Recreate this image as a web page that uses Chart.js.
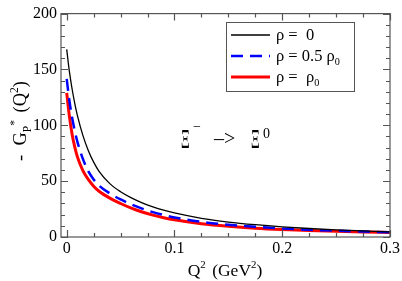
<!DOCTYPE html>
<html>
<head>
<meta charset="utf-8">
<script src="https://cdn.jsdelivr.net/npm/chart.js@4/dist/chart.umd.min.js"></script>
<style>
  html, body { margin: 0; padding: 0; background: #fff; }
  #wrap { width: 402px; height: 281px; position: relative; }
</style>
</head>
<body>
<div id="wrap"><canvas id="chart"></canvas></div>
<script>
// Q^2 grid (GeV^2)
const q2 = [0, 0.0025, 0.005, 0.0075, 0.01, 0.015, 0.02, 0.025, 0.03, 0.04, 0.05, 0.06,
            0.07, 0.08, 0.09, 0.1, 0.125, 0.15, 0.175, 0.2, 0.225, 0.25, 0.275, 0.3];
// -G_P^*(Q^2) for each density
const rho0 = [168, 148, 132.5, 119.5, 108.5, 91, 77.5, 67, 58.8, 47.8, 40.5, 35,
              30.6, 27, 24, 21.5, 16.7, 13.4, 11, 9.1, 7.6, 6.4, 5.4, 4.6];
const rhoHalf = [141.5, 122, 107, 95, 85, 70, 59, 51.5, 46, 39, 33.6, 29.1,
                 25.4, 22.3, 19.7, 17.5, 13.6, 11, 9.1, 7.6, 6.5, 5.6, 4.9, 4.3];
const rhoFull = [129, 108, 92, 80.5, 71.5, 59.5, 51.5, 45.5, 41, 34.8, 30, 25.8,
                 22.4, 19.6, 17.3, 15.4, 11.9, 9.6, 7.9, 6.7, 5.8, 5.1, 4.55, 4.1];

const xTicks = [0, 0.1, 0.2, 0.3];
const yTicks = [0, 50, 100, 150, 200];
const legendLabels = [['ρ =  0', ''], ['ρ = 0.5 ρ', '0'], ['ρ =  ρ', '0']];

const SERIF = '"Liberation Serif", "DejaVu Serif", serif';
const FRAME = '#555';

const toPoints = (ys) => q2.map((x, i) => ({ x: x, y: ys[i] }));

// draws text with raised / lowered small parts
function richText(ctx, parts, x, y, size) {
  let cx = x;
  parts.forEach(p => {
    const s = p.s ? size * 0.62 : size;
    ctx.font = `${s}px ${SERIF}`;
    const dy = p.s === 'sup' ? -size * 0.45 : (p.s === 'sub' ? size * 0.25 : 0);
    ctx.fillText(p.t, cx, y + dy);
    cx += ctx.measureText(p.t).width + (p.gap || 0);
  });
  return cx - x;
}
function richWidth(ctx, parts, size) {
  let w = 0;
  parts.forEach(p => {
    ctx.font = `${p.s ? size * 0.62 : size}px ${SERIF}`;
    w += ctx.measureText(p.t).width + (p.gap || 0);
  });
  return w;
}
// single glyph squeezed horizontally
function squeezed(ctx, t, x, y, size, sx) {
  ctx.save();
  ctx.font = `${size}px ${SERIF}`;
  ctx.translate(x, y);
  ctx.scale(sx, 1);
  ctx.fillText(t, 0, 0);
  ctx.restore();
}

const decorations = {
  id: 'decorations',
  afterDatasetsDraw(chart) {
    const ctx = chart.ctx;
    const a = chart.chartArea;
    const xs = chart.scales.x, ys = chart.scales.y;
    ctx.save();
    // frame
    ctx.strokeStyle = FRAME;
    ctx.lineWidth = 1.2;
    ctx.strokeRect(a.left, a.top, a.right - a.left, a.bottom - a.top);
    // inward ticks, all four sides
    ctx.beginPath();
    for (let v = 0; v <= 0.3001; v += 0.025) {
      const px = Math.round(xs.getPixelForValue(v)) + 0.5;
      const major = Math.abs(v / 0.1 - Math.round(v / 0.1)) < 1e-6;
      const len = major ? 7 : 4;
      ctx.moveTo(px, a.bottom); ctx.lineTo(px, a.bottom - len);
      ctx.moveTo(px, a.top); ctx.lineTo(px, a.top + len);
    }
    for (let v = 0; v <= 200; v += 10) {
      const py = Math.round(ys.getPixelForValue(v)) + 0.5;
      const len = v % 50 === 0 ? 7 : 4;
      ctx.moveTo(a.left, py); ctx.lineTo(a.left + len, py);
      ctx.moveTo(a.right, py); ctx.lineTo(a.right - len, py);
    }
    ctx.stroke();

    ctx.fillStyle = '#000';
    ctx.textBaseline = 'alphabetic';
    // x title
    const xt = [{ t: 'Q' }, { t: '2', s: 'sup', gap: 2 }, { t: ' (GeV' }, { t: '2', s: 'sup' }, { t: ')' }];
    const xw = richWidth(ctx, xt, 17.5);
    richText(ctx, xt, 225 - xw / 2, 276, 17.5);
    // y title
    ctx.save();
    ctx.translate(26, 121);
    ctx.rotate(-Math.PI / 2);
    const yt = [{ t: '-  G' }, { t: 'P', s: 'sub' }, { t: '*', s: 'sup', gap: 3 }, { t: ' (Q' }, { t: '2', s: 'sup' }, { t: ')' }];
    const yw = richWidth(ctx, yt, 18.5);
    richText(ctx, yt, -yw / 2, 0, 18.5);
    ctx.restore();

    // legend
    const lx = 226, ly = 22, lw = 128, lh = 69;
    ctx.fillStyle = '#fff';
    ctx.fillRect(lx, ly, lw, lh);
    ctx.strokeStyle = FRAME;
    ctx.lineWidth = 1;
    ctx.strokeRect(lx + 0.5, ly + 0.5, lw, lh);
    chart.data.datasets.forEach((ds, i) => {
      const yy = 35 + i * 21;
      ctx.beginPath();
      ctx.strokeStyle = ds.borderColor;
      ctx.lineWidth = ds.borderWidth;
      ctx.setLineDash(ds.borderDash || []);
      ctx.moveTo(231, yy); ctx.lineTo(270, yy);
      ctx.stroke();
      ctx.setLineDash([]);
      ctx.fillStyle = '#000';
      const lab = legendLabels[i];
      const parts = [{ t: lab[0] }];
      if (lab[1]) parts.push({ t: lab[1], s: 'sub' });
      richText(ctx, parts, 276, yy + 5, 16.5);
    });

    // reaction label  Ξ⁻ -> Ξ⁰
    ctx.fillStyle = '#000';
    squeezed(ctx, 'Ξ', 181, 148, 27, 0.5);
    ctx.font = `14px ${SERIF}`;
    ctx.fillText('−', 193, 131);
    ctx.font = `20px ${SERIF}`;
    ctx.fillText('–>', 214, 145);
    squeezed(ctx, 'Ξ', 251, 148, 27, 0.5);
    ctx.font = `14px ${SERIF}`;
    ctx.fillText('0', 263, 138);
    ctx.restore();
  }
};

const tickFont = { family: SERIF, size: 16 };

new Chart(document.getElementById('chart'), {
  type: 'line',
  data: {
    datasets: [
      { label: 'rho = 0', data: toPoints(rho0), borderColor: '#000000', borderWidth: 1.3 },
      { label: 'rho = 0.5 rho0', data: toPoints(rhoHalf), borderColor: '#0000ff', borderWidth: 2.5, borderDash: [12, 7] },
      { label: 'rho = rho0', data: toPoints(rhoFull), borderColor: '#ff0000', borderWidth: 3 }
    ].map(d => Object.assign(d, { pointRadius: 0, fill: false, cubicInterpolationMode: 'monotone' }))
  },
  options: {
    responsive: true,
    maintainAspectRatio: false,
    animation: false,
    layout: { padding: { left: 0, right: 11, top: 7, bottom: 0 } },
    plugins: { legend: { display: false }, tooltip: { enabled: false } },
    scales: {
      x: {
        type: 'linear',
        min: -0.0053,
        max: 0.3,
        grid: { display: false, drawTicks: false },
        border: { display: false },
        afterBuildTicks: (s) => { s.ticks = xTicks.map(v => ({ value: v })); },
        afterFit: (s) => { s.height = 44; },
        ticks: { font: tickFont, color: '#000', padding: 2, maxRotation: 0,
                 callback: (v) => (v === 0 ? '0' : String(+v.toFixed(1))) }
      },
      y: {
        min: 0,
        max: 200,
        grid: { display: false, drawTicks: false },
        border: { display: false },
        afterBuildTicks: (s) => { s.ticks = yTicks.map(v => ({ value: v })); },
        afterFit: (s) => { s.width = 61; },
        ticks: { font: tickFont, color: '#000', padding: 4 }
      }
    }
  },
  plugins: [decorations]
});
</script>
</body>
</html>
